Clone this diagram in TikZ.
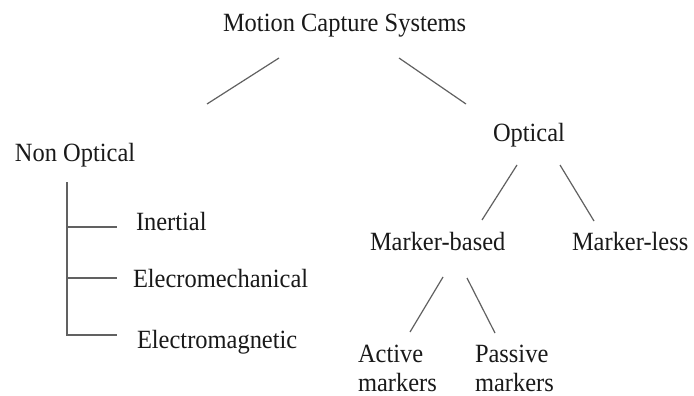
\documentclass[tikz,border=0pt]{standalone}
\usepackage{fontspec}
\setmainfont{Liberation Serif}
\newfontfamily\tnr[FakeStretch=0.93]{Liberation Serif}
\begin{document}
\begin{tikzpicture}[x=1pt,y=-1pt,
  lbl/.style={anchor=base west,inner sep=0pt,outer sep=0pt,text=black!90,font=\tnr\fontsize{26.3}{29}\selectfont},
  conn/.style={draw=black!62,line width=1.2pt}]
\useasboundingbox[fill=white] (0,0) rectangle (694,396);
% nodes
\node[lbl] (root) at (223,32) {Motion Capture Systems};
\node[lbl] (nonopt) at (15,161) {Non Optical};
\node[lbl] (opt) at (493,142) {Optical};
\node[lbl] (inert) at (136,230) {Inertial};
\node[lbl] (emech) at (133,287) {Elecromechanical};
\node[lbl] (emag) at (137,348) {Electromagnetic};
\node[lbl] (mbased) at (370,250) {Marker-based};
\node[lbl] (mless) at (572,250) {Marker-less};
\node[lbl] (active) at (358,362) {\vtop{\baselineskip=29pt\hbox{Active}\hbox{markers}}};
\node[lbl] (passive) at (475,362) {\vtop{\baselineskip=29pt\hbox{Passive}\hbox{markers}}};
% connector ends
\coordinate (r1) at (279,58);  \coordinate (n1) at (207,104);
\coordinate (r2) at (399,58);  \coordinate (o1) at (466,104);
\coordinate (o2) at (517,165); \coordinate (mb1) at (482,220);
\coordinate (o3) at (560,165); \coordinate (ml1) at (594,221);
\coordinate (mb2) at (443,277); \coordinate (a1) at (410,332);
\coordinate (mb3) at (467,278); \coordinate (p1) at (495,333);
\coordinate (vtop) at (67,182);
\coordinate (t1) at (67,227); \coordinate (t1e) at (117,227);
\coordinate (t2) at (67,278); \coordinate (t2e) at (117,278);
\coordinate (t3) at (67,335); \coordinate (t3e) at (117,335);
% connectors
\draw[conn] (r1) -- (n1);
\draw[conn] (r2) -- (o1);
\draw[conn] (o2) -- (mb1);
\draw[conn] (o3) -- (ml1);
\draw[conn] (mb2) -- (a1);
\draw[conn] (mb3) -- (p1);
\draw[conn] (vtop) -- (t3) -- (t3e);
\draw[conn] (t1) -- (t1e);
\draw[conn] (t2) -- (t2e);
\end{tikzpicture}
\end{document}
